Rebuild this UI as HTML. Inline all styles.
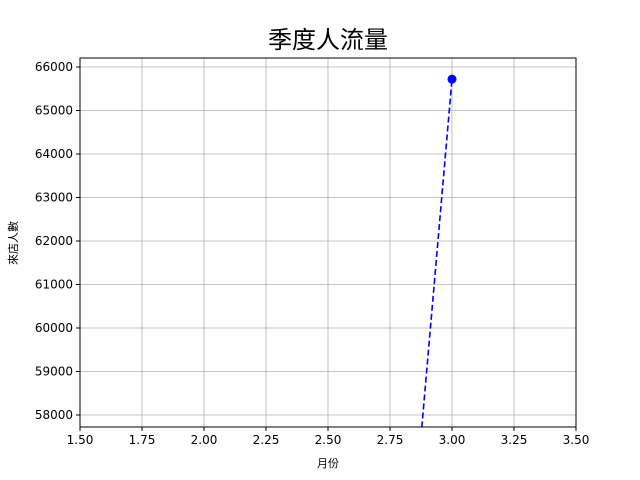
<!DOCTYPE html>
<html><head><meta charset="utf-8"><style>
html,body{margin:0;padding:0;background:#fff;width:640px;height:480px;overflow:hidden;}
svg{display:block;font-family:"DejaVu Sans","Noto Sans CJK TC",sans-serif;}
</style></head><body>
<svg id="chart" width="640" height="480">
<defs><clipPath id="clip"><rect x="80" y="58" width="496" height="369"/></clipPath></defs>
<text x="328" y="48" text-anchor="middle" font-size="24" font-family="'Noto Sans CJK TC',sans-serif">季度人流量</text>
<g id="grid"></g>
<g id="series" clip-path="url(#clip)"></g>
<rect x="80" y="58" width="496" height="369" fill="none" stroke="#000" stroke-width="1"/>
<g id="xticks"></g><g id="yticks"></g>
<text x="328" y="467" text-anchor="middle" font-size="11" font-family="'Noto Sans CJK TC',sans-serif">月份</text>
<text transform="translate(17,243) rotate(-90)" text-anchor="middle" font-size="11" font-family="'Noto Sans CJK TC',sans-serif">來店人數</text>
</svg>
<script>
const months=[2,3];
const visitors=[0,65720];
const xTickLabels=["1.50","1.75","2.00","2.25","2.50","2.75","3.00","3.25","3.50"];
const yTickLabels=["58000","59000","60000","61000","62000","63000","64000","65000","66000"];
const NS="http://www.w3.org/2000/svg";
const X0=1.5,X1=3.5,Y0=57724,Y1=66207;
const L=80,R=576,T=58,B=427;
const sx=v=>L+(v-X0)/(X1-X0)*(R-L);
const sy=v=>B-(v-Y0)/(Y1-Y0)*(B-T);
function mk(t,a,p){const e=document.createElementNS(NS,t);for(const k in a)e.setAttribute(k,a[k]);p.appendChild(e);return e;}
const grid=document.getElementById('grid'),xt=document.getElementById('xticks'),yt=document.getElementById('yticks'),ser=document.getElementById('series');
xTickLabels.forEach(s=>{const x=sx(+s);
 const g=mk('line',{x1:x,x2:x,y1:T,y2:B,stroke:'#b0b0b0','stroke-width':0.8},grid);
 
 
 mk('line',{x1:x,x2:x,y1:B,y2:B+4,stroke:'#000'},xt);
 const t=mk('text',{x:x,y:B+17,'text-anchor':'middle','font-size':12},xt);t.textContent=s;
 
 });
yTickLabels.forEach(s=>{const y=sy(+s);
 const g=mk('line',{x1:L,x2:R,y1:y,y2:y,stroke:'#b0b0b0','stroke-width':0.8},grid);
 
 
 mk('line',{x1:L-4,x2:L,y1:y,y2:y,stroke:'#000'},yt);
 const t=mk('text',{x:L-7,y:y+4,'text-anchor':'end','font-size':12},yt);t.textContent=s;
 
 });
const pts=months.map((m,i)=>sx(m)+','+sy(visitors[i])).join(' ');
const pl=mk('polyline',{points:pts,fill:'none',stroke:'#0000ff','stroke-width':1.6,'stroke-dasharray':'6,3'},ser);


months.forEach((m,i)=>{const c=mk('circle',{cx:sx(m),cy:sy(visitors[i]),r:4.5,fill:'#0000ff'},ser);
 
 });
</script>
</body></html>
